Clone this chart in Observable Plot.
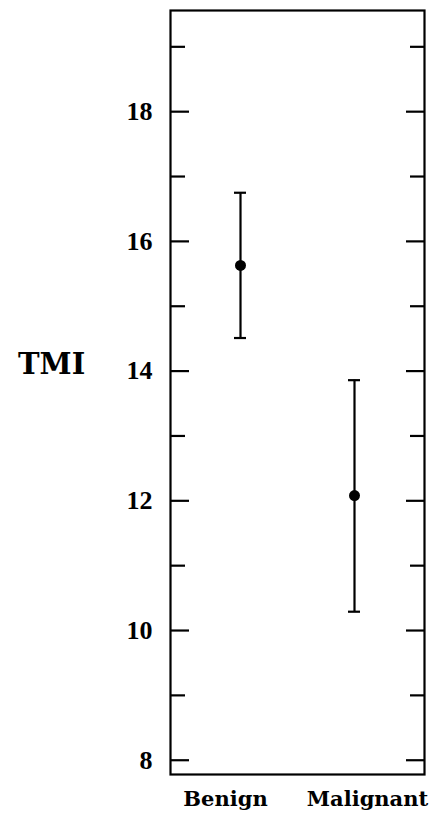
<!DOCTYPE html>
<html>
<head>
<meta charset="utf-8">
<script src="https://cdn.jsdelivr.net/npm/d3@7"></script>
<script src="https://cdn.jsdelivr.net/npm/@observablehq/plot@0.6"></script>
<style>
  body { margin: 0; background: #fff; }
</style>
</head>
<body>
<div id="chart"></div>
<script>
const categories = ["Benign", "Malignant"];
const means = [15.63, 12.08];
const lower = [14.51, 10.29];
const upper = [16.75, 13.86];
const majorTicks = [8, 10, 12, 14, 16, 18];
const minorTicks = [9, 11, 13, 15, 17, 19];
const yLabel = "TMI";

const data = categories.map((c, i) => ({cat: c, mean: means[i], lo: lower[i], hi: upper[i]}));

const serif = "'Liberation Serif', 'DejaVu Serif', serif";
const serifWide = "'DejaVu Serif', serif";

const chart = Plot.plot({
  width: 433,
  height: 822,
  marginLeft: 170,
  marginRight: 9,
  marginTop: 10,
  marginBottom: 48,
  style: {fontFamily: serif, fontSize: "26px", fontWeight: "bold", color: "#000", background: "#fff"},
  x: {type: "band", domain: categories, paddingInner: 0.895, paddingOuter: 0.56, axis: null},
  y: {domain: [7.78, 19.56], axis: null},
  marks: [
    Plot.frame({stroke: "#000", strokeWidth: 2.2}),
    Plot.axisY({ticks: majorTicks, tickSize: -19, text: null, strokeWidth: 2.2, stroke: "#000"}),
    Plot.axisY({ticks: minorTicks, tickSize: -15, text: null, strokeWidth: 2.2, stroke: "#000"}),
    Plot.axisY({anchor: "right", ticks: majorTicks, tickSize: -19, text: null, strokeWidth: 2.2, stroke: "#000"}),
    Plot.axisY({anchor: "right", ticks: minorTicks, tickSize: -15, text: null, strokeWidth: 2.2, stroke: "#000"}),
    Plot.axisY({ticks: majorTicks, tickSize: 0, tickPadding: 18, label: null, fill: "#000"}),
    Plot.ruleX(data, {x: "cat", y1: "lo", y2: "hi", stroke: "#000", strokeWidth: 2.2}),
    Plot.tickY(data, {x: "cat", y: "hi", stroke: "#000", strokeWidth: 2.2}),
    Plot.tickY(data, {x: "cat", y: "lo", stroke: "#000", strokeWidth: 2.2}),
    Plot.dot(data, {x: "cat", y: "mean", r: 5.5, fill: "#000", stroke: "none"}),
    Plot.text(categories, {filter: d => d === categories[0], x: d => d, frameAnchor: "bottom", dy: 31, dx: -15, fontSize: 21, fontWeight: "bold", fontFamily: serifWide, fill: "#000"}),
    Plot.text(categories, {filter: d => d === categories[1], x: d => d, frameAnchor: "bottom", dy: 31, dx: 13, fontSize: 21, fontWeight: "bold", fontFamily: serifWide, fill: "#000"}),
    Plot.text([yLabel], {frameAnchor: "left", dx: -152.5, dy: -28, textAnchor: "start", fontSize: 29, fontWeight: "bold", fontFamily: serifWide, fill: "#000"})
  ]
});
document.getElementById("chart").appendChild(chart);
</script>
</body>
</html>
